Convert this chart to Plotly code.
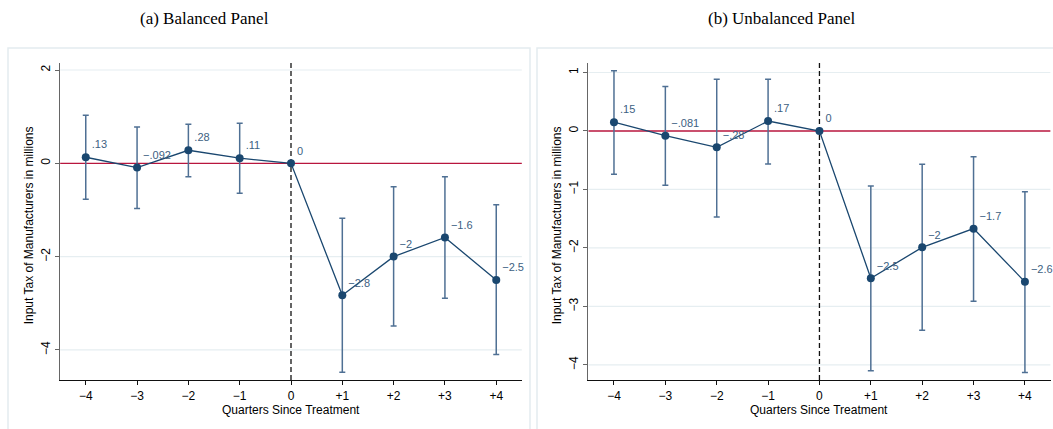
import plotly.graph_objects as go

# ---------------- data ----------------
quarters = [-4, -3, -2, -1, 0, 1, 2, 3, 4]
x_ticktext = ["\u22124", "\u22123", "\u22122", "\u22121", "0", "+1", "+2", "+3", "+4"]

bal_coef = [0.13, -0.092, 0.28, 0.11, 0.0, -2.83, -2.0, -1.59, -2.50]
bal_lo = [-0.77, -0.97, -0.29, -0.64, 0.0, -4.48, -3.49, -2.89, -4.10]
bal_hi = [1.03, 0.78, 0.84, 0.86, 0.0, -1.18, -0.50, -0.29, -0.89]
bal_labels = [".13", "\u2212.092", ".28", ".11", "0", "\u22122.8", "\u22122", "\u22121.6", "\u22122.5"]
bal_yticks = [2, 0, -2, -4]
bal_yticktext = ["2", "0", "\u22122", "\u22124"]

unb_coef = [0.15, -0.081, -0.28, 0.17, 0.0, -2.52, -1.99, -1.67, -2.58]
unb_lo = [-0.74, -0.93, -1.47, -0.565, 0.0, -4.10, -3.41, -2.91, -4.13]
unb_hi = [1.03, 0.76, 0.885, 0.885, 0.0, -0.94, -0.57, -0.44, -1.04]
unb_labels = [".15", "\u2212.081", "\u2212.28", ".17", "0", "\u22122.5", "\u22122", "\u22121.7", "\u22122.6"]
unb_yticks = [1, 0, -1, -2, -3, -4]
unb_yticktext = ["1", "0", "\u22121", "\u22122", "\u22123", "\u22124"]

titles = ["(a) Balanced Panel", "(b) Unbalanced Panel"]
y_title = "Input Tax of Manufacturers in millions"
x_title = "Quarters Since Treatment"

# ---------------- style ----------------
W, H = 1053, 429
NAVY = "#1a476f"
CAP = "#4f7094"
LABEL = "#3d5f82"
RED = "#b8163e"
GRID = "#e6eef1"
FRAME = "#e4ecef"
FONT = "Liberation Sans, Arial, sans-serif"


def px(v):
    return v / W


def py(v):
    return 1 - v / H


fig = go.Figure()

plot_top, plot_bot = 62.7, 380.0

panels = [
    dict(coef=bal_coef, lo=bal_lo, hi=bal_hi, labels=bal_labels, yt=bal_yticks, ytt=bal_yticktext,
         xd=[px(60.1), px(521.9)], yr=[-4.645, 2.157], xa="x", ya="y", ytx=29, xcenter=291,
         tcenter=204),
    dict(coef=unb_coef, lo=unb_lo, hi=unb_hi, labels=unb_labels, yt=unb_yticks, ytt=unb_yticktext,
         xd=[px(588.3), px(1050.6)], yr=[-4.259, 1.168], xa="x2", ya="y2", ytx=557, xcenter=819,
         tcenter=782),
]

# panel frames
fig.add_shape(type="rect", xref="paper", yref="paper", x0=px(8), x1=px(530), y0=-0.2, y1=py(48),
              line=dict(color=FRAME, width=1.5), layer="below")
fig.add_shape(type="rect", xref="paper", yref="paper", x0=px(537), x1=1.2, y0=-0.2, y1=py(48),
              line=dict(color=FRAME, width=1.5), layer="below")

for i, p in enumerate(panels):
    # gridlines (not at zero, where the reference line sits)
    for t in p["yt"]:
        if t != 0:
            fig.add_shape(type="line", xref=p["xa"], yref=p["ya"], x0=-4.5, x1=4.5, y0=t, y1=t,
                          line=dict(color=GRID, width=1.2), layer="below")
    # zero line
    fig.add_shape(type="line", xref=p["xa"], yref=p["ya"], x0=-4.5, x1=4.5, y0=0, y1=0,
                  line=dict(color=RED, width=1.3), layer="below")
    # event line
    fig.add_shape(type="line", xref=p["xa"], yref=p["ya"], x0=0, x1=0, y0=p["yr"][0], y1=p["yr"][1],
                  line=dict(color="#111111", width=1.3, dash="5px,3px"), layer="below")

    # confidence intervals (skip reference period)
    idx = [k for k in range(len(quarters)) if p["hi"][k] != p["lo"][k]]
    fig.add_trace(go.Scatter(
        x=[quarters[k] for k in idx],
        y=[p["coef"][k] for k in idx],
        mode="markers",
        marker=dict(size=1, opacity=0),
        error_y=dict(type="data", symmetric=False,
                     array=[p["hi"][k] - p["coef"][k] for k in idx],
                     arrayminus=[p["coef"][k] - p["lo"][k] for k in idx],
                     color=CAP, thickness=1.5, width=3),
        xaxis=p["xa"], yaxis=p["ya"], showlegend=False, hoverinfo="skip",
    ))
    # point estimates
    fig.add_trace(go.Scatter(
        x=quarters, y=p["coef"], mode="lines+markers+text",
        line=dict(color=NAVY, width=1.3),
        marker=dict(color=NAVY, size=8),
        text=p["labels"], textposition="top right", cliponaxis=False,
        textfont=dict(family=FONT, size=11, color=LABEL),
        xaxis=p["xa"], yaxis=p["ya"], showlegend=False,
    ))

    # titles
    fig.add_annotation(text=titles[i], xref="paper", yref="paper",
                       x=px(p["tcenter"]), y=py(19), xanchor="center", yanchor="middle",
                       showarrow=False, font=dict(family="Liberation Serif, Times New Roman, serif",
                                                   size=17, color="#000"))
    fig.add_annotation(text=y_title, xref="paper", yref="paper", textangle=-90,
                       x=px(p["ytx"]), y=py((plot_top + plot_bot) / 2 + 4), xanchor="center",
                       yanchor="middle", showarrow=False,
                       font=dict(family=FONT, size=12, color="#000"))
    fig.add_annotation(text=x_title, xref="paper", yref="paper",
                       x=px(p["xcenter"]), y=py(409.5), xanchor="center", yanchor="middle",
                       showarrow=False, font=dict(family=FONT, size=12, color="#000"))

axis_common = dict(tickfont=dict(family=FONT, size=12, color="#000"), ticks="outside", ticklen=4,
                   zeroline=False, showline=True, automargin=False, showgrid=False)

for i, p in enumerate(panels):
    sfx = "" if i == 0 else "2"
    fig.update_layout(**{
        "xaxis" + sfx: dict(domain=p["xd"], range=[-4.5, 4.5], anchor="y" + sfx,
                            tickmode="array", tickvals=quarters, ticktext=x_ticktext,
                            linecolor="#111111", linewidth=1.3, tickcolor="#111111", tickwidth=1.2,
                            **axis_common),
        "yaxis" + sfx: dict(domain=[py(plot_bot), py(plot_top)], range=p["yr"], anchor="x" + sfx,
                            tickmode="array", tickvals=p["yt"], ticktext=p["ytt"], tickangle=-90,
                            linecolor="#666666", linewidth=1.3, tickcolor="#666666", tickwidth=1.2,
                            **axis_common),
    })

fig.update_layout(template="none", width=W, height=H, margin=dict(l=0, r=0, t=0, b=0, pad=0),
                  paper_bgcolor="white", plot_bgcolor="white", showlegend=False)

fig.write_html("out.html", config={"displayModeBar": False},
               post_script="document.body.style.margin='0';")
